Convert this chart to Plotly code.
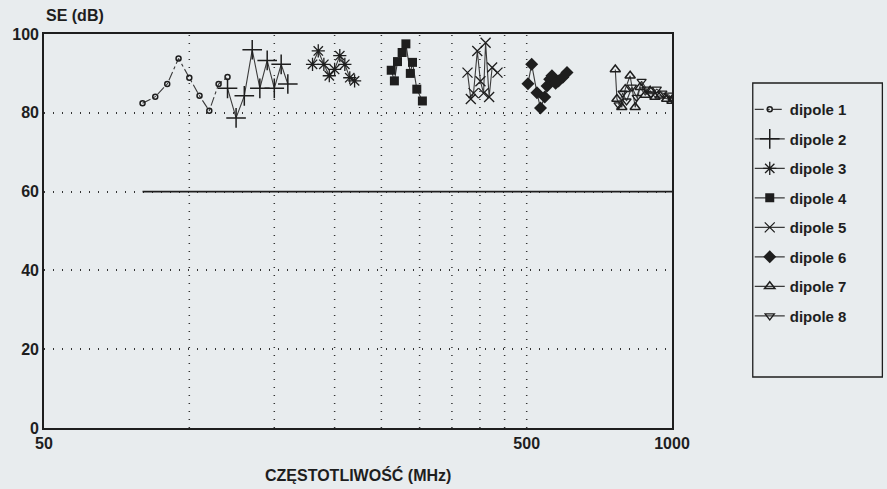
import plotly.graph_objects as go

# ---- data ----
freq_d1 = [80, 85, 90, 95, 100, 105, 110, 115, 120]
se_d1 = [82.4, 84.1, 87.3, 93.8, 88.9, 84.3, 80.5, 87.3, 89.1]

freq_d2 = [120, 125, 130, 135, 140, 145, 150, 155, 160]
se_d2 = [86.2, 78.7, 84.3, 96.0, 86.2, 93.3, 86.2, 92.3, 87.3]

freq_d3 = [180, 185, 190, 195, 200, 205, 210, 215, 220]
se_d3 = [92.3, 95.7, 92.3, 89.4, 91.0, 94.5, 92.3, 88.9, 88.1]

freq_d4 = [262, 266, 270, 276, 281, 287, 290, 296, 304]
se_d4 = [90.8, 88.1, 93.0, 95.3, 97.5, 90.0, 92.8, 86.0, 83.0]

freq_d5 = [377, 383, 388, 395, 401, 407, 411, 418, 424, 435]
se_d5 = [90.2, 83.5, 85.0, 95.7, 88.0, 85.0, 97.8, 84.0, 91.5, 90.2]

freq_d6 = [503, 512, 525, 534, 545, 551, 558, 564, 574, 582, 594, 606]
se_d6 = [87.4, 92.3, 85.1, 81.2, 84.0, 86.8, 88.5, 89.4, 87.5, 88.1, 89.0, 90.2]

freq_d7 = [763, 769, 787, 800, 819, 839, 859, 880, 901, 922, 945, 975, 1000]
se_d7 = [91.0, 83.5, 81.4, 86.0, 89.4, 81.4, 86.5, 84.5, 85.6, 84.0, 84.3, 83.5, 83.0]

freq_d8 = [775, 790, 805, 826, 845, 865, 885, 905, 930, 955, 985, 1000]
se_d8 = [82.0, 85.0, 83.0, 86.5, 83.9, 88.0, 86.0, 84.8, 86.0, 85.0, 84.5, 83.5]

series_names = ["dipole 1", "dipole 2", "dipole 3", "dipole 4",
                "dipole 5", "dipole 6", "dipole 7", "dipole 8"]

grid_freqs = [100, 150, 200, 250, 300, 350, 400, 450, 500]
limit_freq = [80, 1000]
limit_se = [60, 60]

x_tick_vals = [50, 500, 1000]
x_tick_text = ["50", "500", "1000"]
y_tick_vals = [0, 20, 40, 60, 80, 100]

# ---- styling ----
INK = "#1e1e1e"
BG = "#e8ecee"
FONT = "Liberation Sans, Arial, sans-serif"

fig = go.Figure()

# dotted vertical grid lines
gx, gy = [], []
for f in grid_freqs:
    gx += [f, f, None]
    gy += [0, 100, None]
fig.add_trace(go.Scatter(x=gx, y=gy, mode="lines", showlegend=False,
                         hoverinfo="skip",
                         line=dict(color="#333333", width=1.5, dash="1px,7px")))

# 60 dB limit line
fig.add_trace(go.Scatter(x=limit_freq, y=limit_se, mode="lines", showlegend=False,
                         hoverinfo="skip", line=dict(color=INK, width=1.6)))

series = [
    (freq_d1, se_d1, dict(symbol="circle-open", size=5, line=dict(width=1.5, color=INK)), "dashdot"),
    (freq_d2, se_d2, dict(symbol="cross-thin-open", size=14, line=dict(width=1.5, color=INK)), "solid"),
    (freq_d3, se_d3, dict(symbol="asterisk-open", size=11, line=dict(width=1.3, color=INK)), "solid"),
    (freq_d4, se_d4, dict(symbol="square", size=9, color=INK), "solid"),
    (freq_d5, se_d5, dict(symbol="x-thin-open", size=10, line=dict(width=1.3, color=INK)), "solid"),
    (freq_d6, se_d6, dict(symbol="diamond", size=10, color=INK), "solid"),
    (freq_d7, se_d7, dict(symbol="triangle-up-open", size=9, line=dict(width=1.5, color=INK)), "solid"),
    (freq_d8, se_d8, dict(symbol="triangle-down-open", size=8, line=dict(width=1.3, color=INK)), "solid"),
]

for name, (fx, fy, mk, dash) in zip(series_names, series):
    fig.add_trace(go.Scatter(
        x=fx, y=fy, name=name, mode="lines+markers", legendgroup=name,
        marker=dict(color=INK, **{k: v for k, v in mk.items() if k != "color"}),
        line=dict(color="#3a3a3a", width=1.1, dash=dash),
    ))

# legend frame (paper coords)
fig.add_shape(type="rect", xref="paper", yref="paper",
              x0=1.1286, x1=1.335, y0=0.1294, y1=0.8756,
              line=dict(color=INK, width=1.3), fillcolor="rgba(0,0,0,0)")

fig.add_annotation(text="SE (dB)", xref="paper", yref="paper", x=0, y=1.048,
                   xanchor="left", yanchor="middle", showarrow=False,
                   font=dict(family=FONT, size=16, color=INK, weight="bold"))
fig.add_annotation(text="CZĘSTOTLIWOŚĆ (MHz)", xref="paper", yref="paper",
                   x=0.5, y=-0.119, xanchor="center", yanchor="middle",
                   showarrow=False,
                   font=dict(family=FONT, size=16, color=INK, weight="bold"))

fig.update_layout(
    width=887, height=489,
    margin=dict(l=42, r=215, t=34, b=61),
    paper_bgcolor=BG, plot_bgcolor=BG,
    font=dict(family=FONT, color=INK),
    legend=dict(x=1.1238, xanchor="left", y=0.85, yanchor="top",
                bgcolor="rgba(0,0,0,0)", borderwidth=0, tracegroupgap=7,
                font=dict(family=FONT, size=15, color=INK, weight="bold")),
    xaxis=dict(type="log", range=[1.69897, 3.0], tickvals=x_tick_vals,
               ticktext=x_tick_text, showgrid=False, zeroline=False,
               showline=True, mirror=True, linecolor=INK, linewidth=1.6,
               ticks="", tickfont=dict(family=FONT, size=16, color=INK, weight="bold")),
    yaxis=dict(range=[0, 100], tickvals=y_tick_vals, showgrid=True,
               gridcolor="#333333", gridwidth=1.5, griddash="1px,8px",
               zeroline=False, showline=True, mirror=True, linecolor=INK,
               linewidth=1.6, ticks="",
               tickfont=dict(family=FONT, size=16, color=INK, weight="bold")),
)

fig.write_html("out.html", config={"displayModeBar": False},
               post_script="document.body.style.margin='0';document.body.style.overflow='hidden';")
